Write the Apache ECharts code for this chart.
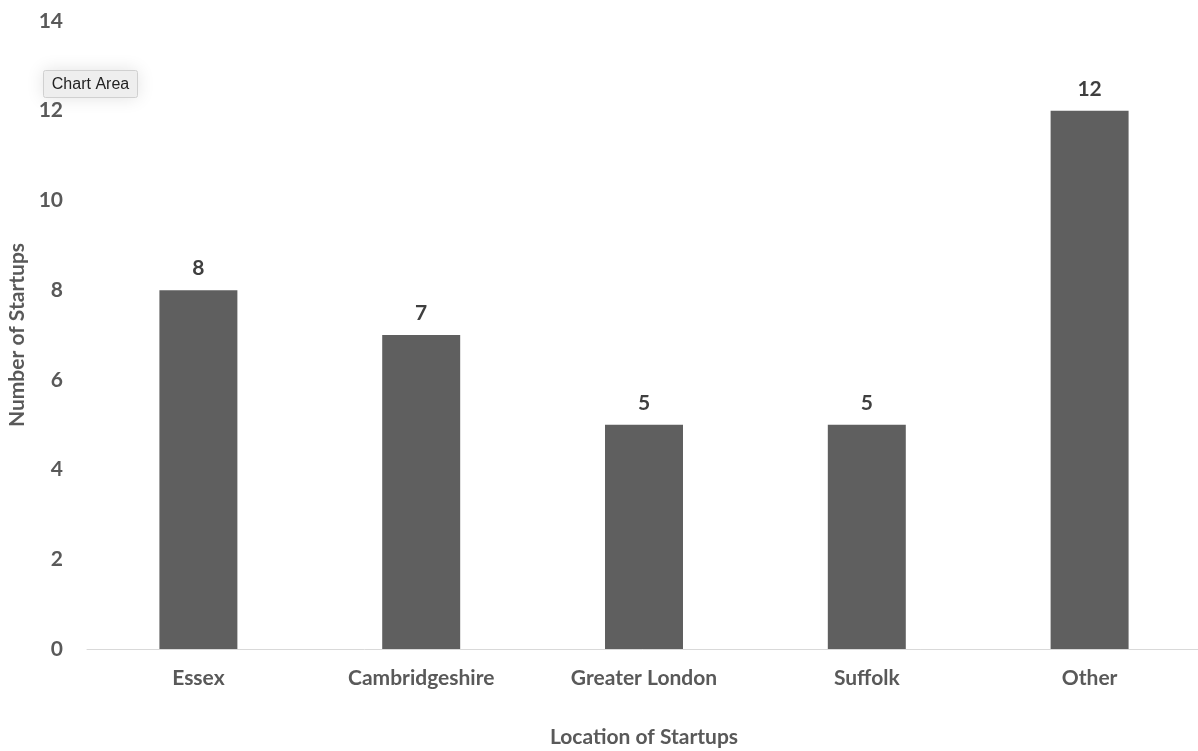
<!DOCTYPE html>
<html>
<head>
<meta charset="utf-8">
<script src="https://cdn.jsdelivr.net/npm/echarts@6/dist/echarts.min.js"></script>
<style>
  html, body { margin: 0; padding: 0; background: #fff; }
  #chart { width: 1198px; height: 751px; }
</style>
</head>
<body>
<div id="chart"></div>
<script>
const locations = ['Essex', 'Cambridgeshire', 'Greater London', 'Suffolk', 'Other']
const startupCounts = [8, 7, 5, 5, 12]
const yTicks = [0, 2, 4, 6, 8, 10, 12, 14]

const font = 'Lato, "Open Sans", sans-serif'
const chart = echarts.init(document.getElementById('chart'))

chart.setOption({
  animation: false,
  grid: { left: 87, right: -3, top: 21, bottom: 102, outerBoundsMode: 'none', containLabel: false },
  xAxis: {
    type: 'category',
    data: locations,
    name: 'Location of Startups',
    nameLocation: 'middle',
    nameGap: 78,
    nameTextStyle: { color: '#595959', fontSize: 21, fontWeight: 'bold', fontFamily: font },
    axisLine: { lineStyle: { color: '#d9d9d9', width: 1 } },
    axisTick: { show: false },
    axisLabel: { color: '#595959', fontSize: 21, fontWeight: 'bold', fontFamily: font, margin: 19 }
  },
  yAxis: {
    type: 'value',
    min: yTicks[0],
    max: yTicks[yTicks.length - 1],
    interval: 2,
    name: 'Number of Startups',
    nameLocation: 'middle',
    nameGap: 57,
    nameTextStyle: { color: '#595959', fontSize: 21, fontWeight: 'bold', fontFamily: font },
    axisLine: { show: false },
    axisTick: { show: false },
    splitLine: { show: false },
    axisLabel: { color: '#595959', fontSize: 21, fontWeight: 'bold', fontFamily: font, margin: 24 }
  },
  series: [{
    type: 'bar',
    data: startupCounts,
    barWidth: '35%',
    itemStyle: { color: '#5f5f5f' },
    label: {
      show: true,
      position: 'top',
      distance: 11,
      color: '#3f3f3f',
      fontSize: 21,
      fontWeight: 'bold',
      fontFamily: font
    }
  }],
  graphic: [{
    type: 'group',
    left: 43,
    top: 70,
    children: [{
      type: 'rect',
      shape: { x: 0, y: 0, width: 94, height: 27, r: 2 },
      style: {
        fill: '#efefef',
        stroke: '#d0d0d0',
        lineWidth: 1,
        shadowBlur: 18,
        shadowColor: 'rgba(0,0,0,0.12)'
      }
    }, {
      type: 'text',
      x: 47,
      y: 14,
      style: {
        text: 'Chart Area',
        fill: '#222',
        font: '16px "Helvetica Neue", "Liberation Sans", Arial, sans-serif',
        align: 'center',
        verticalAlign: 'middle'
      }
    }]
  }]
})
</script>
</body>
</html>
